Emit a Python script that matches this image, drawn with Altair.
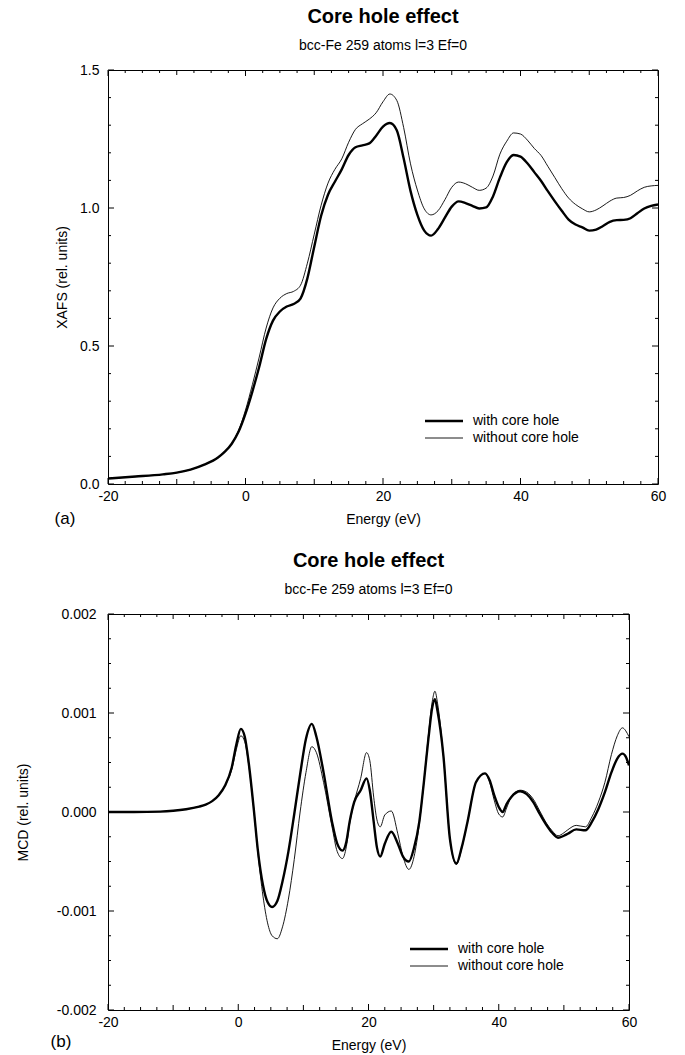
import altair as alt
import pandas as pd

FONT = "Liberation Sans"
TITLE = "Core hole effect"
SUBTITLE = "bcc-Fe 259 atoms l=3 Ef=0"
SERIES = ["with core hole", "without core hole"]
LINE_WIDTHS = [2.4, 0.9]

# ---- panel (a): XAFS ----
xafs_energy = [-20, -16, -12, -10, -8, -6, -4, -3, -2, -1] + list(range(0, 61))
xafs_with = [
    0.020, 0.027, 0.035, 0.041, 0.052, 0.070, 0.096, 0.117, 0.146, 0.190,
    0.255, 0.335, 0.425, 0.525, 0.592, 0.625, 0.643, 0.652, 0.672, 0.745,
    0.860, 0.972, 1.048, 1.095, 1.140, 1.192, 1.220, 1.227, 1.234, 1.262,
    1.295, 1.308, 1.282, 1.180, 1.062, 0.975, 0.918, 0.900, 0.924, 0.965,
    1.005, 1.024, 1.018, 1.008, 0.998, 1.002, 1.042, 1.110, 1.166, 1.192,
    1.186, 1.162, 1.130, 1.098, 1.060, 1.024, 0.990, 0.958, 0.940, 0.930,
    0.918, 0.922, 0.935, 0.950, 0.956, 0.957, 0.963, 0.981, 0.998, 1.008,
    1.013,
]
xafs_without = [
    0.020, 0.027, 0.035, 0.041, 0.052, 0.070, 0.096, 0.117, 0.147, 0.195,
    0.268, 0.360, 0.460, 0.565, 0.638, 0.673, 0.690, 0.698, 0.720, 0.800,
    0.905, 1.010, 1.090, 1.140, 1.178, 1.238, 1.285, 1.305, 1.322, 1.345,
    1.385, 1.413, 1.390, 1.292, 1.160, 1.065, 0.997, 0.975, 0.990, 1.030,
    1.075, 1.094, 1.088, 1.075, 1.064, 1.072, 1.116, 1.195, 1.242, 1.272,
    1.268, 1.246, 1.216, 1.190, 1.150, 1.110, 1.070, 1.036, 1.013, 0.997,
    0.986, 0.993, 1.008, 1.025, 1.036, 1.038, 1.046, 1.062, 1.075, 1.080,
    1.082,
]

# ---- panel (b): MCD ----
mcd_energy = [
    -20, -16, -12, -10, -8, -6, -5, -4, -3, -2, -1, -0.3, 0.4, 1.0, 1.6,
    2.4, 3.0, 3.8, 4.5, 5.2, 6.0, 6.8, 7.7, 8.6, 9.5, 10.4, 11.3, 12.0, 13.1,
    14.4, 15.2, 16.0, 16.6, 17.1, 17.8, 18.8, 19.7, 20.2, 20.8, 21.3, 21.8,
    22.5, 23.5, 24.5, 25.3, 26.2, 27.0, 27.8, 28.5, 29.2, 29.8, 30.2, 30.6,
    31.5, 32.5, 33.5, 34.3, 35.2, 36.5, 37.9, 38.6, 39.3, 40.0, 40.6, 41.2,
    41.9, 43.3, 44.3, 45.3, 46.3, 47.3, 48.2, 49.1, 50.0, 50.6, 51.9, 53.3,
    54.3, 55.3, 56.3, 57.3, 58.2, 59.0, 59.5, 60.0,
]
mcd_with = [
    0.0, 0.0, 0.000004, 0.000012, 0.000028, 0.000055, 0.000075, 0.00011,
    0.00017, 0.00027, 0.00045, 0.00068, 0.00084, 0.00076, 0.00050,
    0.00002, -0.00038, -0.00074, -0.00091, -0.00096, -0.00090, -0.00070,
    -0.00040, -0.00002, 0.00038, 0.00074, 0.00089, 0.00076, 0.00040,
    -0.00010, -0.00032, -0.00039, -0.00030, -0.00010, 0.00010, 0.00022,
    0.00034, 0.00022, -0.00010, -0.00036, -0.00045,
    -0.00032, -0.00020, -0.00032, -0.00045, -0.00050, -0.00036, -0.00010,
    0.00030, 0.00074, 0.00106, 0.00114, 0.00102,
    0.00057, -0.00027, -0.00052, -0.00036, -0.00010, 0.00030, 0.00039,
    0.00032, 0.00017, 0.00005, 0.0, 0.00008,
    0.00015, 0.00021, 0.00018, 0.00010, -0.00002, -0.00013, -0.00021,
    -0.00026, -0.00024, -0.00022, -0.000175, -0.000185,
    -0.00010, 0.00003, 0.00020, 0.00040, 0.00054, 0.00059, 0.00056, 0.00047,
]
mcd_without = [
    0.0, 0.0, 0.000004, 0.000012, 0.000028, 0.000055, 0.000075, 0.00011,
    0.00017, 0.00027, 0.00043, 0.00063, 0.00077, 0.00071, 0.00048,
    0.00002, -0.00040, -0.00085, -0.00112, -0.00125, -0.00128, -0.00116,
    -0.00088, -0.00048, 0.0, 0.00040, 0.00066, 0.00060, 0.00030,
    -0.00015, -0.00040, -0.00047, -0.00035, -0.00012, 0.00010, 0.00034,
    0.00060, 0.00052, 0.00015, -0.00008, -0.00015,
    -0.00003, 0.00001, -0.00022, -0.00045, -0.00058, -0.00045, -0.00012,
    0.00030, 0.00078, 0.00112, 0.00122, 0.00110,
    0.00057, -0.00027, -0.00053, -0.00037, -0.00010, 0.00030, 0.00039,
    0.00030, 0.00012, -0.00002, -0.00005, 0.00004,
    0.00015, 0.00022, 0.00020, 0.00013, 0.00001, -0.00011, -0.00019,
    -0.00024, -0.00021, -0.00018, -0.000135, -0.00015,
    -0.00005, 0.00010, 0.00030, 0.00058, 0.00077, 0.00085, 0.00082, 0.00076,
]

# ---- tick positions: labelled, medium and minor ----
energy_major = [-20, 0, 20, 40, 60]
energy_medium = [-10, 10, 30, 50]
energy_minor = [-17.5, -15, -12.5, -7.5, -5, -2.5, 2.5, 5, 7.5, 12.5, 15,
                17.5, 22.5, 25, 27.5, 32.5, 35, 37.5, 42.5, 45, 47.5, 52.5,
                55, 57.5]
xafs_major = [0.0, 0.5, 1.0, 1.5]
xafs_minor = [0.1, 0.2, 0.3, 0.4, 0.6, 0.7, 0.8, 0.9, 1.1, 1.2, 1.3, 1.4]
mcd_major = [-0.002, -0.001, 0.0, 0.001, 0.002]
mcd_minor = [-0.00175, -0.0015, -0.00125, -0.00075, -0.0005, -0.00025,
             0.00025, 0.0005, 0.00075, 0.00125, 0.0015, 0.00175]

MAJOR_LEN, MEDIUM_LEN, MINOR_LEN = 6, 5, 3


def long_frame(energy, with_vals, without_vals):
    return pd.DataFrame({
        "energy": list(energy) * 2,
        "value": list(with_vals) + list(without_vals),
        "series": [SERIES[0]] * len(energy) + [SERIES[1]] * len(energy),
    })


def hyphen_labels(fmt=None):
    shown = f"format(datum.value, '{fmt}')" if fmt else "datum.label"
    return f"replace({shown}, '\u2212', '-')"


def label_axis(orient, values, title, fmt, label_padding, title_padding):
    return alt.Axis(
        orient=orient, values=values, ticks=False, domain=False, grid=False,
        labelExpr=hyphen_labels(fmt), labelOverlap=False, labelFlush=False,
        labelBound=False, labelFont=FONT, labelFontSize=14,
        labelColor="black", labelPadding=label_padding,
        title=title, titleFont=FONT, titleFontSize=14,
        titleFontWeight="normal", titleColor="black",
        titlePadding=title_padding,
    )


def inward_ticks(x_scale, y_scale, width, height, x_groups, y_groups):
    """Short rules pointing into the frame from all four edges."""
    layers = []
    for values, length in x_groups:
        base = alt.Chart(pd.DataFrame({"pos": values})).mark_rule(
            color="black", strokeWidth=1)
        x = alt.X("pos:Q", scale=x_scale, axis=None)
        layers.append(base.encode(x=x, y=alt.value(height),
                                  y2=alt.value(height - length)))
        layers.append(base.encode(x=x, y=alt.value(0), y2=alt.value(length)))
    for values, length in y_groups:
        base = alt.Chart(pd.DataFrame({"pos": values})).mark_rule(
            color="black", strokeWidth=1)
        y = alt.Y("pos:Q", scale=y_scale, axis=None)
        layers.append(base.encode(y=y, x=alt.value(0), x2=alt.value(length)))
        layers.append(base.encode(y=y, x=alt.value(width),
                                  x2=alt.value(width - length)))
    return layers


def panel(df, y_domain, y_major, y_minor, y_fmt, y_title, width, height,
          tag, tag_xy, legend_xy, y_label_padding, y_title_padding):
    x_scale = alt.Scale(domain=[-20, 60], nice=False, zero=False)
    y_scale = alt.Scale(domain=y_domain, nice=False, zero=False)

    lines = alt.Chart(df).mark_line(
        color="black", interpolate="monotone", clip=True
    ).encode(
        x=alt.X("energy:Q", scale=x_scale,
                axis=label_axis("bottom", energy_major, "Energy (eV)", None,
                                5, 9)),
        y=alt.Y("value:Q", scale=y_scale,
                axis=label_axis("left", y_major, y_title, y_fmt,
                                y_label_padding, y_title_padding)),
        strokeWidth=alt.StrokeWidth(
            "series:N",
            scale=alt.Scale(domain=SERIES, range=LINE_WIDTHS),
            legend=alt.Legend(
                orient="none", legendX=legend_xy[0], legendY=legend_xy[1],
                title=None, symbolType="M-2,0H2", symbolSize=361,
                symbolStrokeColor="black", symbolFillColor="transparent",
                labelFont=FONT, labelFontSize=14, labelColor="black",
                labelOffset=18, rowPadding=0, padding=0,
            ),
        ),
    )

    ticks = inward_ticks(
        x_scale, y_scale, width, height,
        [(energy_major, MAJOR_LEN), (energy_medium, MEDIUM_LEN),
         (energy_minor, MINOR_LEN)],
        [(y_major, MAJOR_LEN), (y_minor, MINOR_LEN)],
    )

    tag_layer = alt.Chart(pd.DataFrame({"tag": [tag]})).mark_text(
        font=FONT, fontSize=17, color="black", align="center",
        baseline="middle"
    ).encode(text="tag:N", x=alt.value(tag_xy[0]), y=alt.value(tag_xy[1]))

    return alt.layer(lines, *ticks, tag_layer).resolve_axis(
        x="independent", y="independent"
    ).properties(
        width=width, height=height,
        title=alt.TitleParams(
            text=TITLE, subtitle=SUBTITLE, font=FONT, fontSize=20,
            fontWeight="bold", color="black", subtitleFont=FONT,
            subtitleFontSize=14, subtitleColor="black", anchor="middle",
            frame="group", offset=10, subtitlePadding=12,
        ),
    )


panel_a = panel(
    long_frame(xafs_energy, xafs_with, xafs_without),
    [0, 1.5], xafs_major, xafs_minor, ".1f", "XAFS (rel. units)",
    550, 414, "(a)", (-43, 449), (325, 340), 9, 10,
)
panel_b = panel(
    long_frame(mcd_energy, mcd_with, mcd_without),
    [-0.002, 0.002], mcd_major, mcd_minor, ".3f", "MCD (rel. units)",
    521, 396, "(b)", (-47, 428), (310, 324), 12, 26,
)

chart = alt.vconcat(
    panel_a, panel_b, spacing=130, bounds="flush"
).resolve_scale(
    strokeWidth="independent"
).resolve_legend(
    strokeWidth="independent"
).properties(
    padding={"left": 15, "top": 6, "right": 5, "bottom": 5}
).configure_view(stroke="black", strokeWidth=1)

chart.save("out.html", embed_options={"renderer": "svg", "actions": False})
